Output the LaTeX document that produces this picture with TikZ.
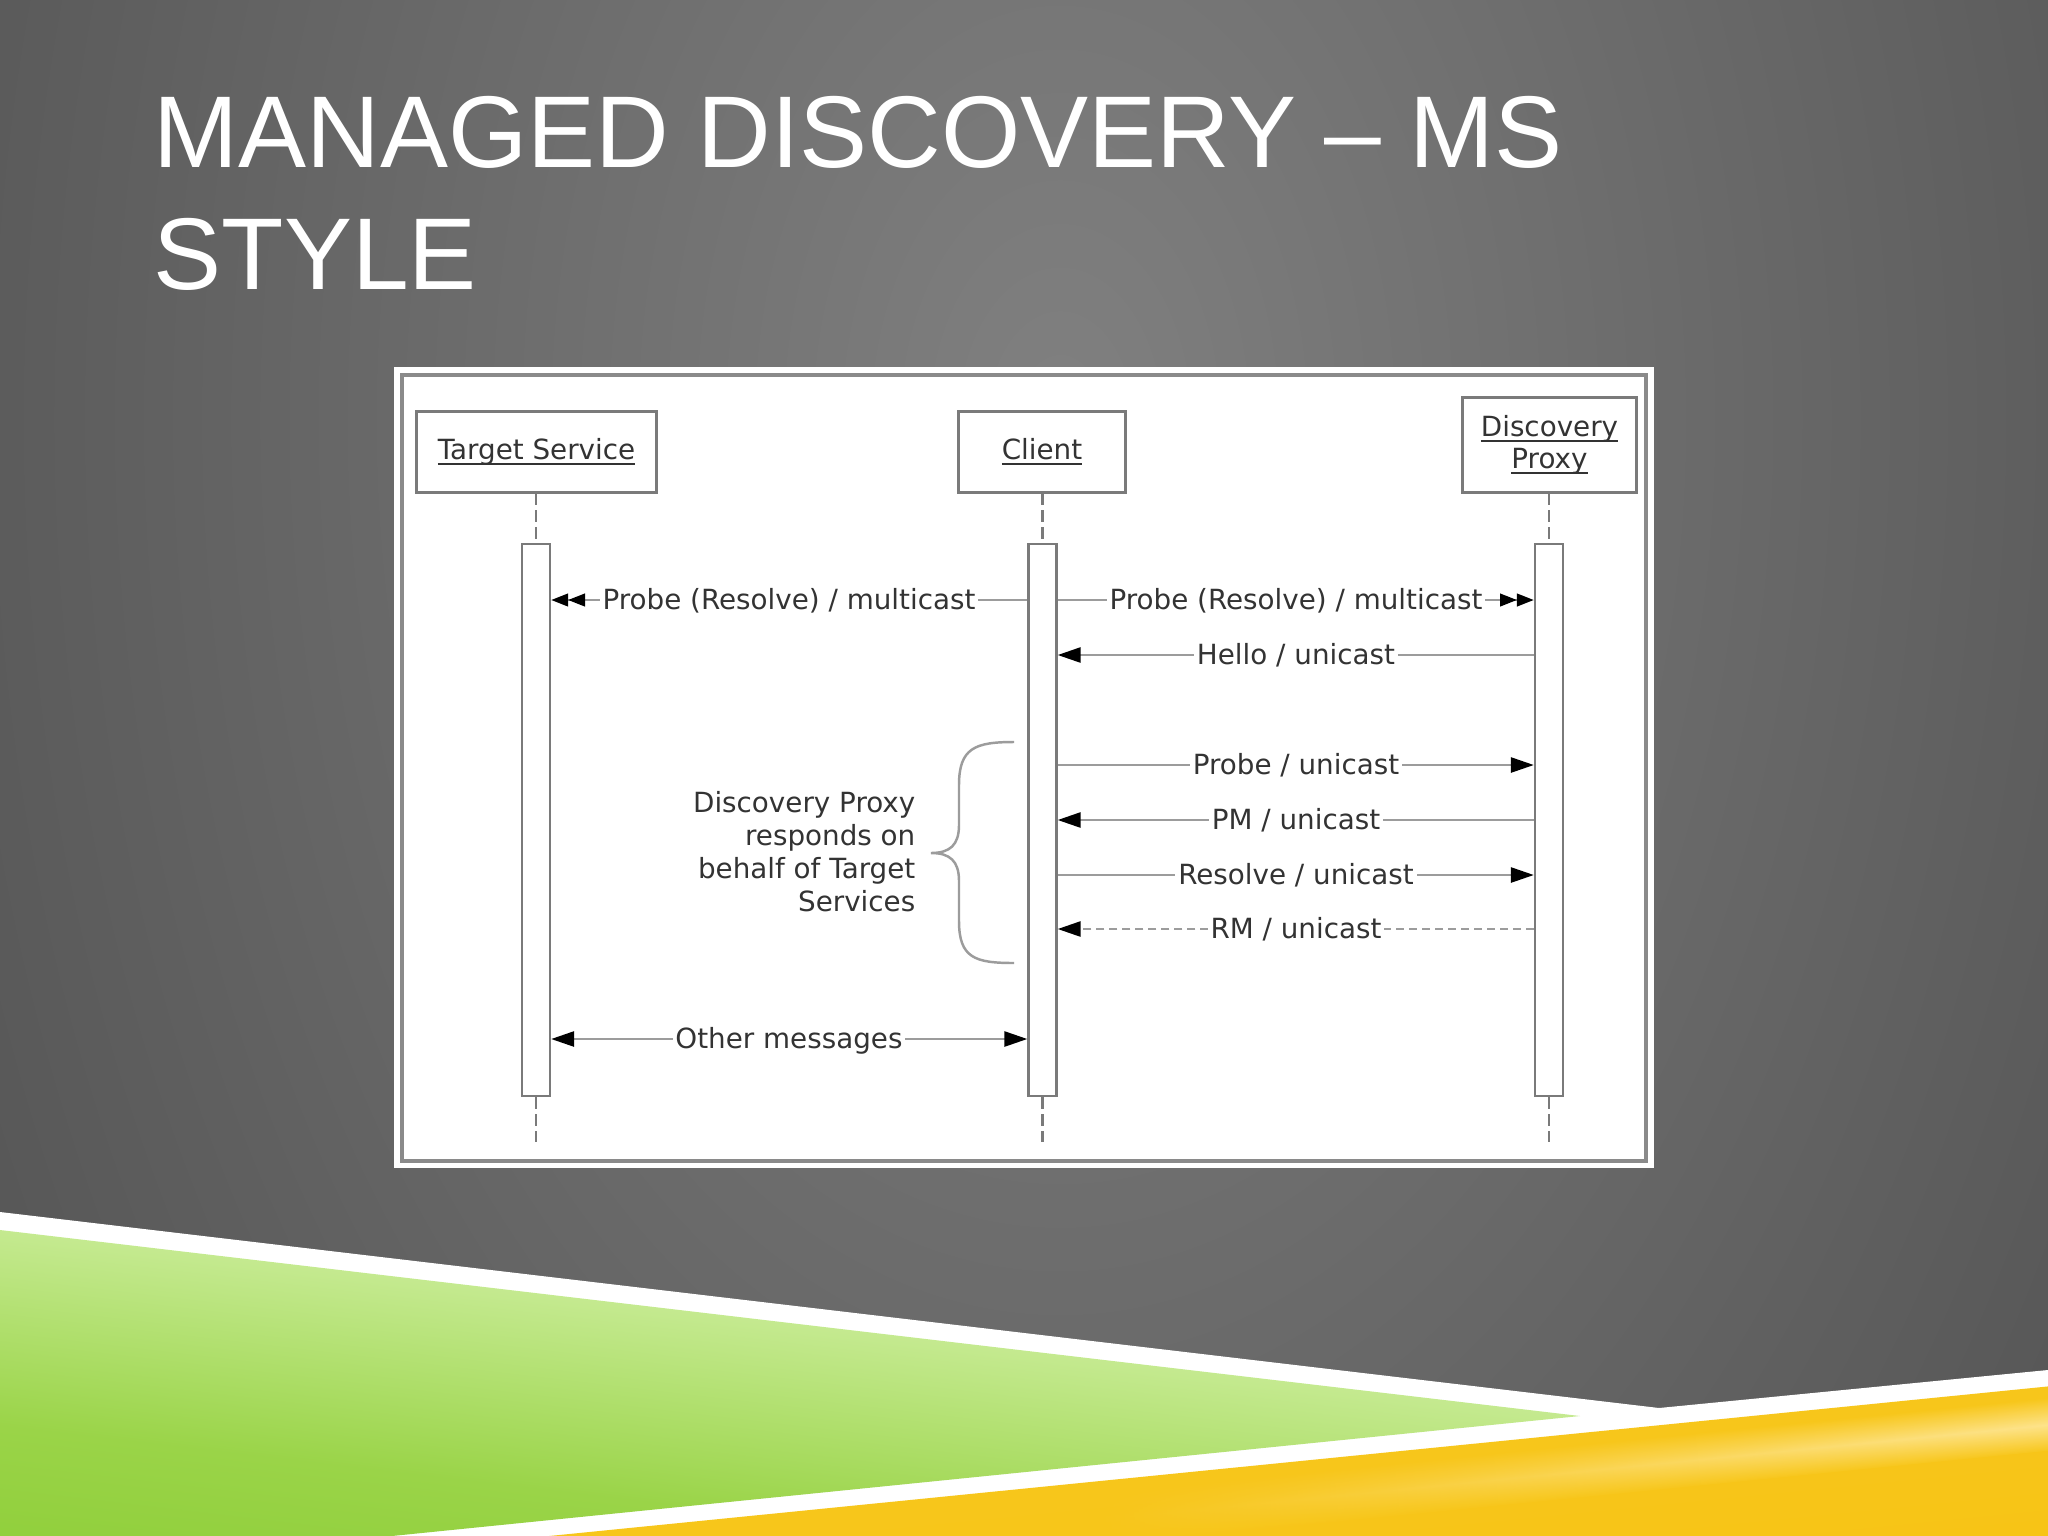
\documentclass[tikz,border=0pt]{standalone}
\usepackage{fontspec}
\usetikzlibrary{arrows.meta,calc,fadings}
\newfontfamily\titlefont{Liberation Sans}
\newfontfamily\diafont{DejaVu Sans}
\newcommand\hul[1]{\underline{\raisebox{0pt}[\height][0pt]{#1}}}
\definecolor{bgA}{HTML}{808080}
\definecolor{bgB}{HTML}{5F5F5F}
\definecolor{bgC}{HTML}{3D3D3D}
\definecolor{gA}{HTML}{7BC41F}
\definecolor{gB}{HTML}{9AD448}
\definecolor{gC}{HTML}{CDEE9E}
\definecolor{gD}{HTML}{BDE786}
\definecolor{gE}{HTML}{AEDD70}
\definecolor{yA}{HTML}{F6C211}
\definecolor{yB}{HTML}{F8C81F}
\definecolor{yC}{HTML}{FFEBA8}
\definecolor{txt}{HTML}{333333}
\definecolor{boxgray}{HTML}{7A7A7A}
\definecolor{linegray}{HTML}{9C9C9C}
\definecolor{framegray}{HTML}{8A8A8A}
\pgfdeclareradialshading{bgshade}{\pgfpoint{0bp}{0bp}}{color(0bp)=(bgA); color(12bp)=(bgB); color(25bp)=(bgC); color(50bp)=(bgC)}
\pgfdeclareverticalshading{greenshade}{100bp}{color(0bp)=(gA); color(50bp)=(gB); color(80bp)=(gC); color(90bp)=(gD); color(100bp)=(gE)}
\pgfdeclareverticalshading{yellowshade}{100bp}{color(0bp)=(yA); color(100bp)=(yB)}
\pgfdeclareverticalshading{hishade}{100bp}{color(0bp)=(yB); color(25bp)=(yB); color(50bp)=(yC); color(75bp)=(yB); color(100bp)=(yB)}
\tikzset{
  hdr/.style={draw=boxgray, line width=0.85pt, fill=white, minimum height=0.8cm, inner sep=0pt,
    font=\diafont\fontsize{7.9}{9.1}\selectfont, text=txt, align=center},
  lifebar/.style={draw=boxgray, line width=0.7pt, fill=white, minimum width=0.28cm, minimum height=5.52cm, inner sep=0pt},
  lifeline/.style={draw=boxgray, line width=0.7pt, dash pattern=on 3.4pt off 1.4pt},
  msgline/.style={draw=linegray, line width=0.6pt},
  dashmsg/.style={draw=linegray, line width=0.6pt, dash pattern=on 2.3pt off 1.4pt},
  lbl/.style={fill=white, inner sep=0.8pt, font=\diafont\fontsize{7.9}{9.4}\selectfont, text=txt,
    text height=0.75em, text depth=0.22em},
  onetip/.style={-{Triangle[length=6.5pt,width=4.3pt,black]}},
  bothtips/.style={{Triangle[length=6.5pt,width=4.3pt,black]}-{Triangle[length=6.5pt,width=4.3pt,black]}},
  twotips/.style={-{Triangle[length=4.8pt,width=3.6pt,black]Triangle[length=4.8pt,width=3.6pt,black]}},
  bracestyle/.style={draw=linegray, line width=0.7pt},
}
\begin{document}
\begin{tikzpicture}[x=0.01cm,y=-0.01cm]
\useasboundingbox (0,0) rectangle (2048,1536);
% background
\begin{scope}
  \clip (0,0) rectangle (2048,1536);
  \shade[shading=bgshade] (-940,-2580) rectangle (3060,3420);
\end{scope}
% bottom decoration
\fill[white] (0,1212) -- (1659,1408) -- (2048,1370) -- (2048,1536) -- (0,1536) -- cycle;
\begin{scope}
  \clip (0,1230) -- (1580,1416) -- (392,1536) -- (0,1536) -- cycle;
  \begin{scope}[transform canvas={rotate around={-6.7:(0,1230)}}]
    \shade[shading=greenshade] (-300,1230) rectangle (1800,1620);
  \end{scope}
\end{scope}
\begin{scope}
  \clip (2048,1386) -- (549,1536) -- (2048,1536) -- cycle;
  \begin{scope}[transform canvas={rotate around={5.7:(549,1536)}}]
    \shade[shading=yellowshade] (400,1536) rectangle (2300,1720);
    \shade[shading=hishade, path fading=west] (1100,1548) rectangle (2300,1600);
  \end{scope}
\end{scope}
% title
\node[anchor=base west, inner sep=0pt, text=white, font=\titlefont\fontsize{29}{34}\selectfont] (t1) at (153,167) {MANAGED DISCOVERY – MS};
\node[anchor=base west, inner sep=0pt, text=white, font=\titlefont\fontsize{29}{34}\selectfont] (t2) at (153,289) {STYLE};
% diagram frame
\fill[white] (394,367) rectangle (1654,1168);
\draw[framegray, line width=0.9pt] (402,375) rectangle (1646,1161);
% headers
\node[hdr, minimum width=2.39cm] (ts) at (536.5,452) {\hul{Target Service}};
\node[hdr, minimum width=1.66cm] (cl) at (1042,452) {\hul{Client}};
\node[hdr, minimum width=1.73cm, minimum height=0.94cm] (dp) at (1549.5,445) {\hul{Discovery}\\\hul{Proxy}};
% lifelines
\coordinate (tsend) at (536,1142);
\coordinate (clend) at (1042.5,1142);
\coordinate (dpend) at (1549,1142);
\node[lifebar] (tsb) at (536,820) {};
\node[lifebar] (clb) at (1042.5,820) {};
\node[lifebar] (dpb) at (1549,820) {};
\draw[lifeline] (ts.south -| tsb.north) -- (tsb.north);
\draw[lifeline] (cl.south -| clb.north) -- (clb.north);
\draw[lifeline] (dp.south -| dpb.north) -- (dpb.north);
\draw[lifeline] (tsb.south) -- (tsend);
\draw[lifeline] (clb.south) -- (clend);
\draw[lifeline] (dpb.south) -- (dpend);
% message rows
\coordinate (r1) at (0,600);
\coordinate (r2) at (0,655);
\coordinate (r3) at (0,765);
\coordinate (r4) at (0,820);
\coordinate (r5) at (0,875);
\coordinate (r6) at (0,929);
\coordinate (r7) at (0,1039);
\draw[msgline, twotips] (clb.west |- r1) -- (tsb.east |- r1);
\draw[msgline, twotips] (clb.east |- r1) -- (dpb.west |- r1);
\draw[msgline, onetip] (dpb.west |- r2) -- (clb.east |- r2);
\draw[msgline, onetip] (clb.east |- r3) -- (dpb.west |- r3);
\draw[msgline, onetip] (dpb.west |- r4) -- (clb.east |- r4);
\draw[msgline, onetip] (clb.east |- r5) -- (dpb.west |- r5);
\draw[dashmsg, onetip] (dpb.west |- r6) -- (clb.east |- r6);
\draw[msgline, bothtips] (tsb.east |- r7) -- (clb.west |- r7);
\node[lbl] (m1) at (789,600) {Probe (Resolve) / multicast};
\node[lbl] (m2) at (1296,600) {Probe (Resolve) / multicast};
\node[lbl] (m3) at (1296,655) {Hello / unicast};
\node[lbl] (m4) at (1296,765) {Probe / unicast};
\node[lbl] (m5) at (1296,820) {PM / unicast};
\node[lbl] (m6) at (1296,875) {Resolve / unicast};
\node[lbl] (m7) at (1296,929) {RM / unicast};
\node[lbl] (m8) at (789,1039) {Other messages};
% brace and note
\draw[bracestyle] (1014,742) .. controls (975,742) and (959,748) .. (959,785) -- (959,825)
  .. controls (959,845) and (950,853) .. (931,853)
  .. controls (950,853) and (959,861) .. (959,881) -- (959,921)
  .. controls (959,958) and (975,963) .. (1014,963);
\node[anchor=east, inner sep=0pt, align=right, text=txt, font=\diafont\fontsize{7.9}{9.4}\selectfont] (note) at (916,852)
  {Discovery Proxy\\responds on\\behalf of Target\\Services};
\end{tikzpicture}
\end{document}
